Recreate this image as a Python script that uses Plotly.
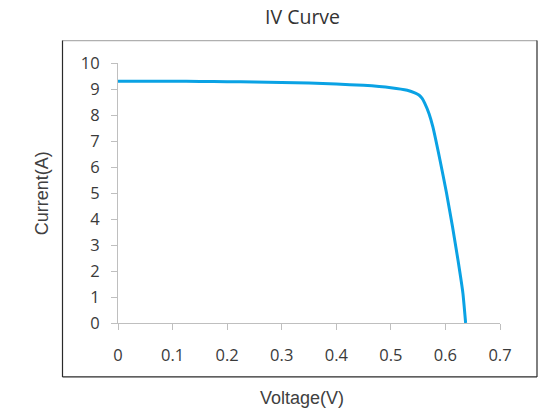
import plotly.graph_objects as go

voltage = [0.0, 0.05, 0.10, 0.15, 0.20, 0.25, 0.30, 0.35, 0.40, 0.45, 0.50, 0.53,
           0.545, 0.552, 0.557, 0.562, 0.570, 0.577, 0.590, 0.602, 0.613, 0.623, 0.632, 0.637]
current = [9.30, 9.30, 9.30, 9.29, 9.28, 9.27, 9.25, 9.23, 9.19, 9.14, 9.05, 8.95,
           8.84, 8.76, 8.65, 8.46, 8.05, 7.54, 6.27, 5.00, 3.70, 2.42, 1.15, 0.0]
x_ticks = [0, 0.1, 0.2, 0.3, 0.4, 0.5, 0.6, 0.7]
x_ticklabels = ["0", "0.1", "0.2", "0.3", "0.4", "0.5", "0.6", "0.7"]
y_ticks = list(range(0, 11))

W, H = 549, 414
L, R, T, B = 118, 500, 62.5, 323

def px(p):
    return (p - L) / (R - L)

def py(p):
    return (B - p) / (B - T)

fig = go.Figure()
fig.add_trace(go.Scatter(x=voltage, y=current, mode="lines",
                         line=dict(color="#0aa2e4", width=3, shape="spline", smoothing=0.5),
                         showlegend=False, hoverinfo="x+y"))

axis_common = dict(showgrid=False, zeroline=False, showline=True, linecolor="#bfbfbf",
                   linewidth=1, ticks="outside", tickcolor="#bfbfbf", ticklen=6,
                   tickfont=dict(family="Open Sans, Noto Sans, sans-serif", size=16.5, color="#3a3a3a"))

fig.update_xaxes(range=[0, 0.7], tickvals=x_ticks, ticktext=x_ticklabels,
                 ticklabelstandoff=11, **axis_common)
fig.update_yaxes(range=[0, 10], tickvals=y_ticks, ticklabelstandoff=8, **axis_common)

box_l, box_r, box_t, box_b = 62.5, 537, 40, 377
shapes = [
    dict(type="line", xref="paper", yref="paper", x0=px(box_l), x1=px(box_r), y0=py(box_t), y1=py(box_t),
         line=dict(color="#b0b0b0", width=1.2)),
    dict(type="line", xref="paper", yref="paper", x0=px(box_l), x1=px(box_l), y0=py(box_t), y1=py(box_b),
         line=dict(color="#2a2a2a", width=1.2)),
    dict(type="line", xref="paper", yref="paper", x0=px(box_r), x1=px(box_r), y0=py(box_t), y1=py(box_b),
         line=dict(color="#2a2a2a", width=1.2)),
    dict(type="line", xref="paper", yref="paper", x0=px(box_l), x1=px(box_r), y0=py(box_b), y1=py(box_b),
         line=dict(color="#2a2a2a", width=1.2)),
]

annotations = [
    dict(text="IV Curve", xref="paper", yref="paper", x=px(302), y=py(16), showarrow=False,
         xanchor="center", yanchor="middle",
         font=dict(family="Open Sans, Noto Sans, sans-serif", size=19.5, color="#333333")),
    dict(text="Current(A)", xref="paper", yref="paper", x=px(42), y=py(193), showarrow=False,
         textangle=-90, xanchor="center", yanchor="middle",
         font=dict(family="Liberation Sans, Arial, sans-serif", size=18, color="#404040")),
    dict(text="Voltage(V)", xref="paper", yref="paper", x=px(302), y=py(398), showarrow=False,
         xanchor="center", yanchor="middle",
         font=dict(family="Liberation Sans, Arial, sans-serif", size=18, color="#404040")),
]

fig.update_layout(width=W, height=H, margin=dict(l=L, r=W - R, t=T, b=H - B),
                  plot_bgcolor="white", paper_bgcolor="white",
                  shapes=shapes, annotations=annotations)

fig.write_html("out.html", config={"displayModeBar": False},
               post_script="document.body.style.margin='0';document.body.style.overflow='hidden';")
